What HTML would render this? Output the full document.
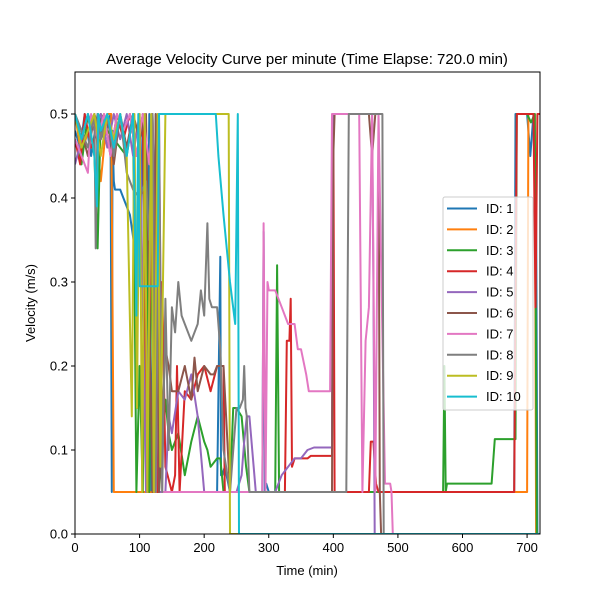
<!DOCTYPE html>
<html><head><meta charset="utf-8"><style>
body{margin:0;background:#fff}
svg{display:block;font-family:"Liberation Sans","DejaVu Sans",sans-serif}
</style></head><body>
<svg id="chart" width="600" height="600" viewBox="0 0 600 600">
<rect width="600" height="600" fill="#fff"/>
<text x="307" y="64" text-anchor="middle" font-size="15">Average Velocity Curve per minute (Time Elapse: 720.0 min)</text>
<defs><clipPath id="pc"><rect x="75" y="72" width="465" height="462"/></clipPath></defs>
<g id="series" clip-path="url(#pc)"></g>
<g id="axes"></g>
<text x="307" y="575" text-anchor="middle" font-size="13">Time (min)</text>
<text x="35" y="303" text-anchor="middle" font-size="13" transform="rotate(-90 35 303)">Velocity (m/s)</text>
<g id="legend"></g>
</svg>
<script>
const xTicks=[0,100,200,300,400,500,600,700];
const yTicks=[0.0,0.1,0.2,0.3,0.4,0.5];
const yTickLabels=["0.0","0.1","0.2","0.3","0.4","0.5"];
const seriesNames=["ID: 1","ID: 2","ID: 3","ID: 4","ID: 5","ID: 6","ID: 7","ID: 8","ID: 9","ID: 10"];
const colors=["#1f77b4","#ff7f0e","#2ca02c","#d62728","#9467bd","#8c564b","#e377c2","#7f7f7f","#bcbd22","#17becf"];
const t1=[0,8,15,25,35,45,55,57,58,60,62,70,75,85,100,105,110,115,118,125,130,135,220,225,226,228,232,240,250,290,292,294,296,300,680,682,700,705,710,714,716,720];
const v1=[0.48,0.46,0.5,0.45,0.5,0.47,0.5,0.05,0.48,0.42,0.41,0.41,0.4,0.38,0.3,0.5,0.1,0.5,0.05,0.5,0.05,0.05,0.05,0.33,0.07,0.07,0.08,0.05,0.05,0.05,0.36,0.05,0.06,0.05,0.05,0.5,0.5,0.45,0.5,0.4,0.0,0.0];
const t2=[0,10,20,30,40,50,56,58,60,70,90,100,110,120,125,130,700,702,706,712,714,720];
const v2=[0.5,0.45,0.48,0.5,0.42,0.5,0.5,0.28,0.05,0.05,0.05,0.05,0.05,0.05,0.05,0.05,0.05,0.5,0.5,0.5,0.0,0.0];
const t3=[0,10,20,30,35,40,50,60,80,90,95,100,105,110,115,120,130,140,145,150,160,170,180,190,200,205,210,220,225,230,240,245,250,258,265,270,310,313,316,320,570,572,574,576,590,645,650,682,684,700,706,712,715,720];
const v3=[0.47,0.44,0.5,0.45,0.34,0.5,0.48,0.47,0.45,0.5,0.05,0.2,0.05,0.46,0.05,0.5,0.05,0.16,0.12,0.1,0.12,0.07,0.11,0.14,0.11,0.1,0.08,0.09,0.09,0.05,0.05,0.15,0.15,0.14,0.08,0.05,0.05,0.32,0.05,0.05,0.05,0.2,0.05,0.06,0.06,0.06,0.113,0.113,0.5,0.5,0.49,0.5,0.0,0.0];
const t4=[0,8,15,25,35,45,55,65,75,85,95,105,112,120,128,135,140,150,155,158,162,170,180,190,200,210,220,225,230,232,240,320,325,328,332,334,336,340,360,365,398,400,402,455,458,462,466,470,680,684,700,710,713,716,720];
const v4=[0.47,0.44,0.5,0.46,0.48,0.5,0.45,0.5,0.47,0.5,0.45,0.5,0.05,0.5,0.05,0.3,0.08,0.05,0.07,0.2,0.05,0.17,0.16,0.19,0.2,0.17,0.2,0.2,0.2,0.05,0.05,0.05,0.05,0.23,0.23,0.28,0.08,0.09,0.09,0.093,0.093,0.5,0.05,0.05,0.11,0.11,0.06,0.05,0.05,0.5,0.5,0.5,0.27,0.5,0.5];
const t5=[0,10,20,30,40,50,60,70,80,90,100,110,120,130,140,145,150,160,170,180,190,200,240,250,258,262,266,270,280,300,310,320,330,340,350,360,370,398,400,402,458,460,462,464,720];
const v5=[0.44,0.47,0.5,0.48,0.5,0.46,0.5,0.47,0.5,0.45,0.5,0.05,0.5,0.05,0.05,0.14,0.12,0.17,0.16,0.19,0.14,0.05,0.05,0.05,0.07,0.11,0.14,0.14,0.05,0.05,0.05,0.07,0.08,0.09,0.09,0.1,0.103,0.103,0.5,0.5,0.5,0.5,0.3,0.0,0.0];
const t6=[0,10,20,30,40,50,60,70,80,90,100,110,120,125,130,140,145,150,160,170,180,185,190,200,210,215,220,230,240,280,290,295,300,310,395,398,400,402,410,455,460,465,470,472,474,720];
const v6=[0.5,0.48,0.45,0.5,0.47,0.5,0.44,0.5,0.46,0.5,0.47,0.5,0.05,0.5,0.05,0.22,0.2,0.17,0.17,0.2,0.16,0.21,0.17,0.2,0.19,0.19,0.2,0.2,0.05,0.05,0.05,0.05,0.05,0.05,0.05,0.05,0.45,0.5,0.5,0.5,0.45,0.5,0.5,0.05,0.0,0.0];
const t7=[0,10,20,25,35,45,55,65,75,85,95,105,115,120,125,130,135,140,290,292,295,298,300,310,320,325,330,340,345,350,358,362,370,395,398,400,440,445,450,455,460,465,470,480,488,490,492,720];
const v7=[0.47,0.45,0.43,0.5,0.47,0.5,0.45,0.5,0.48,0.5,0.45,0.5,0.44,0.5,0.05,0.5,0.05,0.05,0.05,0.37,0.05,0.3,0.29,0.29,0.27,0.26,0.25,0.25,0.22,0.22,0.19,0.17,0.17,0.17,0.5,0.5,0.5,0.05,0.23,0.27,0.5,0.05,0.5,0.06,0.06,0.05,0.0,0.0];
const t8=[0,10,20,30,32,35,40,50,60,70,80,90,100,110,115,120,125,130,135,140,145,150,155,160,165,170,180,190,195,200,205,208,212,220,225,230,240,250,255,260,262,264,266,270,272,280,420,424,476,478,720];
const v8=[0.5,0.48,0.46,0.5,0.34,0.5,0.47,0.5,0.45,0.5,0.43,0.41,0.4,0.42,0.35,0.5,0.05,0.5,0.05,0.28,0.1,0.27,0.24,0.3,0.26,0.25,0.23,0.25,0.29,0.26,0.37,0.28,0.27,0.27,0.22,0.1,0.05,0.15,0.15,0.16,0.2,0.15,0.14,0.05,0.05,0.05,0.05,0.5,0.5,0.0,0.0];
const t9=[0,10,20,30,40,50,60,70,80,88,92,96,100,104,108,112,118,122,128,132,140,150,236,238,240,720];
const v9=[0.5,0.46,0.48,0.5,0.45,0.5,0.47,0.5,0.45,0.14,0.5,0.15,0.5,0.05,0.5,0.05,0.5,0.05,0.5,0.08,0.5,0.5,0.5,0.5,0.0,0.0];
const t10=[0,10,20,30,34,36,40,50,60,70,80,90,95,98,100,128,130,133,138,218,222,230,240,248,252,254,256,720];
const v10=[0.5,0.47,0.5,0.45,0.39,0.5,0.48,0.5,0.46,0.5,0.45,0.5,0.26,0.5,0.295,0.295,0.5,0.5,0.5,0.5,0.45,0.38,0.3,0.25,0.5,0.0,0.0,0.0];
const T=[t1,t2,t3,t4,t5,t6,t7,t8,t9,t10];
const V=[v1,v2,v3,v4,v5,v6,v7,v8,v9,v10];
const X0=75,X1=540,Y0=534,Y1=72,XMAX=720,YMAX=0.55;
const xs=t=>X0+t/XMAX*(X1-X0);
const ys=v=>Y0-v/YMAX*(Y0-Y1);
const NS="http://www.w3.org/2000/svg";
const sg=document.getElementById('series');
for(let i=0;i<T.length;i++){
  const p=document.createElementNS(NS,'polyline');
  p.setAttribute('points',T[i].map((t,j)=>xs(t).toFixed(1)+','+ys(V[i][j]).toFixed(1)).join(' '));
  p.setAttribute('fill','none');p.setAttribute('stroke',colors[i]);p.setAttribute('stroke-width','2');
  p.setAttribute('stroke-linejoin','round');
  
  
  sg.appendChild(p);
}
const ax=document.getElementById('axes');
const fr=document.createElementNS(NS,'rect');
fr.setAttribute('x',X0);fr.setAttribute('y',Y1);fr.setAttribute('width',X1-X0);fr.setAttribute('height',Y0-Y1);
fr.setAttribute('fill','none');fr.setAttribute('stroke','#000');fr.setAttribute('stroke-width','1');


ax.appendChild(fr);
xTicks.forEach(t=>{
  const l=document.createElementNS(NS,'line');
  l.setAttribute('x1',xs(t));l.setAttribute('x2',xs(t));l.setAttribute('y1',Y0);l.setAttribute('y2',Y0+4);l.setAttribute('stroke','#000');
  
  
  ax.appendChild(l);
  const tx=document.createElementNS(NS,'text');
  tx.setAttribute('x',xs(t));tx.setAttribute('y',Y0+18);tx.setAttribute('text-anchor','middle');tx.setAttribute('font-size','13');
  tx.textContent=t;
  
  
  ax.appendChild(tx);
});
yTicks.forEach((v,k)=>{
  const l=document.createElementNS(NS,'line');
  l.setAttribute('x1',X0-4);l.setAttribute('x2',X0);l.setAttribute('y1',ys(v));l.setAttribute('y2',ys(v));l.setAttribute('stroke','#000');
  
  
  ax.appendChild(l);
  const tx=document.createElementNS(NS,'text');
  tx.setAttribute('x',X0-7);tx.setAttribute('y',ys(v)+4.5);tx.setAttribute('text-anchor','end');tx.setAttribute('font-size','13');
  tx.textContent=yTickLabels[k];
  
  
  ax.appendChild(tx);
});
const lg=document.getElementById('legend');
const lb=document.createElementNS(NS,'rect');
lb.setAttribute('x',443);lb.setAttribute('y',197);lb.setAttribute('width',90);lb.setAttribute('height',213);lb.setAttribute('rx',2);
lb.setAttribute('fill','rgba(255,255,255,0.8)');lb.setAttribute('stroke','#ccc');


lg.appendChild(lb);
seriesNames.forEach((n,i)=>{
  const y=208.5+i*20.9;
  const l=document.createElementNS(NS,'line');
  l.setAttribute('x1',447);l.setAttribute('x2',477);l.setAttribute('y1',y);l.setAttribute('y2',y);l.setAttribute('stroke',colors[i]);l.setAttribute('stroke-width','2');
  
  
  lg.appendChild(l);
  const tx=document.createElementNS(NS,'text');
  tx.setAttribute('x',486);tx.setAttribute('y',y+4.5);tx.setAttribute('font-size','13');
  tx.textContent=n;
  
  
  lg.appendChild(tx);
});
</script>
</body></html>
